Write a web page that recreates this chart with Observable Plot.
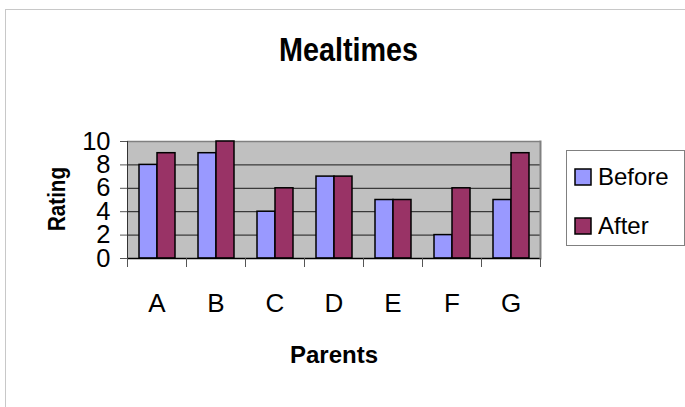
<!DOCTYPE html>
<html><head><meta charset="utf-8">
<script src="https://cdn.jsdelivr.net/npm/d3@7"></script>
<script src="https://cdn.jsdelivr.net/npm/@observablehq/plot@0.6"></script>
<style>
body{margin:0;background:#fff;font-family:"Liberation Sans",Arial,sans-serif;}
#wrap{position:relative;width:685px;height:407px;overflow:hidden;background:#fff;}
#chart{position:absolute;left:0;top:0;}
#border{position:absolute;left:5px;top:9px;width:720px;height:440px;border-top:1px solid #c8c8c8;border-left:1px solid #c8c8c8;pointer-events:none;}
#legend{position:absolute;left:566px;top:150px;width:119px;height:96px;border:1px solid #808080;background:#fff;box-sizing:border-box;padding:1px 0 0 8px;}
#legend .lg-swatches{font-family:"Liberation Sans",Arial,sans-serif;font-size:24px;margin:0;color:#000;columns:1;}
#legend .lg-swatch{display:flex;align-items:center;height:49px;padding:0;margin:0;}
#legend .lg-swatch > svg{margin-right:7px;overflow:visible;}
#legend .lg-swatch svg rect{stroke:#000;stroke-width:1.5px;}
</style></head><body>
<div id="wrap"><div id="chart"></div><div id="legend"></div><div id="border"></div></div>
<script>
const parents = ["A","B","C","D","E","F","G"];
const series = ["Before","After"];
const before = [8,9,4,7,5,2,5];
const after = [9,10,6,7,5,6,9];
const colors = ["#9999ff","#993366"];
const yTicks = [0,2,4,6,8,10];
const gridValues = [2,4,6,8];
const titleText = "Mealtimes";
const xLabel = "Parents";
const yLabel = "Rating";

const data = parents.flatMap((p, i) => [
  {parent: p, series: series[0], value: before[i]},
  {parent: p, series: series[1], value: after[i]}
]);

const font = "Liberation Sans, Arial, sans-serif";

const chart = Plot.plot({
  width: 685, height: 407,
  marginLeft: 124, marginRight: 143, marginTop: 141, marginBottom: 149,
  style: {fontFamily: font, background: "transparent", overflow: "visible", color: "#000"},
  fx: {domain: parents, padding: 0, label: null},
  x: {domain: series, paddingInner: 0, paddingOuter: 0.6, axis: null},
  y: {domain: [0, 10], axis: null},
  color: {domain: series, range: colors},
  marks: [
    Plot.frame({facet: "super", fill: "#c0c0c0"}),
    Plot.ruleY(gridValues, {stroke: "#1a1a1a", strokeWidth: 1}),
    Plot.ruleY([10], {stroke: "#808080", strokeWidth: 1.5}),
    Plot.barY(data, {fx: "parent", x: "series", y: "value", fill: "series", stroke: "#000", strokeWidth: 1.5}),
    Plot.ruleY([0], {stroke: "#000", strokeWidth: 1.5}),
    Plot.frame({facet: "super", anchor: "right", stroke: "#808080", strokeWidth: 2}),
    Plot.frame({facet: "super", anchor: "left", stroke: "#333", strokeWidth: 1}),
    Plot.frame({anchor: "left", stroke: "#555", strokeWidth: 1, insetTop: 117, insetBottom: -8}),
    Plot.frame({anchor: "right", stroke: "#555", strokeWidth: 1, insetTop: 117, insetBottom: -8}),
    Plot.axisY({ticks: yTicks, tickSize: 7, tickPadding: 10, fontSize: 25.5, tickFormat: d => String(d), label: null, stroke: "#555"}),
    Plot.axisFx({anchor: "bottom", tickSize: 0, tickPadding: 35, fontSize: 26, label: null}),
    Plot.text([titleText], {facet: "super", frameAnchor: "top", dx: 14.5, dy: -91, fontSize: 33, fontWeight: "bold", lineAnchor: "middle", textAnchor: "middle", fill: "#000"}),
    Plot.text([xLabel], {facet: "super", frameAnchor: "bottom", dy: 97, fontSize: 24, fontWeight: "bold", lineAnchor: "middle", textAnchor: "middle", fill: "#000"}),
    Plot.text([yLabel], {facet: "super", frameAnchor: "left", dx: -70, dy: -1, rotate: -90, fontSize: 23, fontWeight: "bold", lineAnchor: "middle", textAnchor: "middle", fill: "#000"})
  ]
});
document.getElementById("chart").appendChild(chart);

chart.querySelectorAll("text").forEach(t => {
  if (t.textContent === titleText) {
    t.setAttribute("textLength", 139);
    t.setAttribute("lengthAdjust", "spacingAndGlyphs");
  }
  if (t.textContent === yLabel) {
    t.setAttribute("textLength", 64);
    t.setAttribute("lengthAdjust", "spacingAndGlyphs");
  }
});

const lg = Plot.legend({color: {domain: series, range: colors}, legend: "swatches", columns: 1, swatchSize: 16, className: "lg"});
document.getElementById("legend").appendChild(lg);
</script>
</body></html>
